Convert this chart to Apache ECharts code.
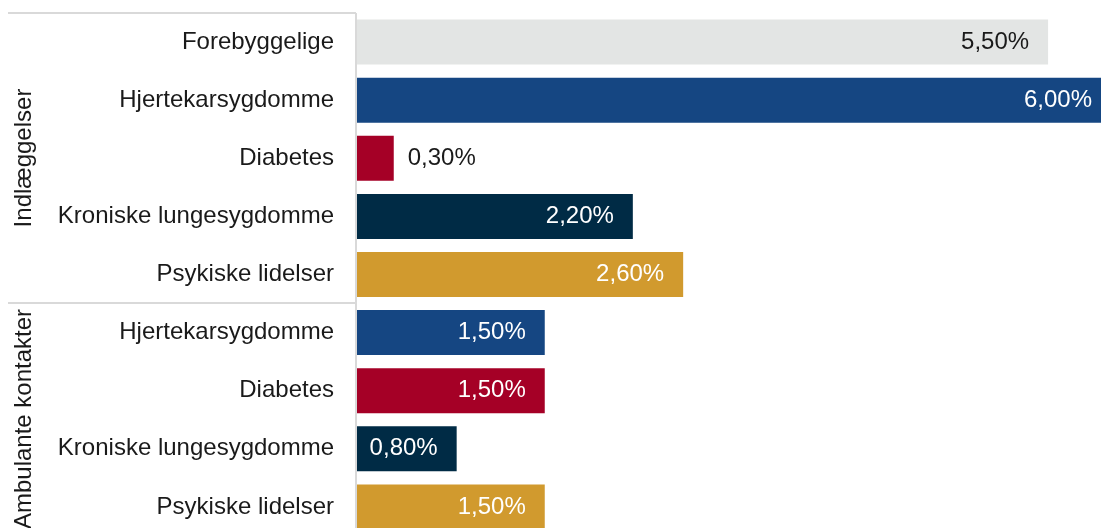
<!DOCTYPE html>
<html><head><meta charset="utf-8">
<script src="https://cdn.jsdelivr.net/npm/echarts@6/dist/echarts.min.js"></script>
<style>html,body{margin:0;padding:0;background:#fff}#c{width:1101px;height:528px}</style>
</head><body><div id="c"></div>
<script>
const categories = ['Forebyggelige','Hjertekarsygdomme','Diabetes','Kroniske lungesygdomme','Psykiske lidelser','Hjertekarsygdomme','Diabetes','Kroniske lungesygdomme','Psykiske lidelser'];
const values = [5.5, 6.0, 0.3, 2.2, 2.6, 1.5, 1.5, 0.8, 1.5];
const barColors = ['#e3e5e4','#154682','#a50026','#002b45','#d19a2e','#154682','#a50026','#002b45','#d19a2e'];
const groups = ['Indlæggelser','Ambulante kontakter'];

const FONT = 'Liberation Sans, Arial, sans-serif';
const fmt = v => v.toFixed(2).replace('.', ',') + '%';
const data = values.map((v, i) => {
  const outside = v < 0.5;
  const light = barColors[i] === '#e3e5e4';
  return {
    value: v,
    itemStyle: { color: barColors[i] },
    label: {
      position: outside ? 'right' : 'insideRight',
      distance: outside ? 14 : 19,
      color: (outside || light) ? '#1a1a1a' : '#ffffff'
    }
  };
});

const chart = echarts.init(document.getElementById('c'));
const lineStyle = { stroke: '#d9d9d9', lineWidth: 2 };
chart.setOption({
  animation: false,
  textStyle: { fontFamily: FONT },
  grid: { left: 356, top: 13, width: 755, height: 523, containLabel: false, outerBoundsMode: 'none' },
  xAxis: { type: 'value', min: 0, max: 6, show: false },
  yAxis: {
    type: 'category', data: categories, inverse: true,
    axisLine: { show: false }, axisTick: { show: false },
    axisLabel: { fontSize: 24, color: '#1a1a1a', margin: 22, fontFamily: FONT }
  },
  series: [{
    type: 'bar', data: data, barWidth: 45,
    label: { show: true, fontSize: 24, formatter: p => fmt(p.value), fontFamily: FONT }
  }],
  graphic: [
    { type: 'line', shape: { x1: 8, y1: 13, x2: 356, y2: 13 }, style: lineStyle, silent: true, z: 10 },
    { type: 'line', shape: { x1: 356, y1: 13, x2: 356, y2: 528 }, style: lineStyle, silent: true, z: 10 },
    { type: 'line', shape: { x1: 8, y1: 303, x2: 356, y2: 303 }, style: lineStyle, silent: true, z: 10 },
    { type: 'text', x: 24, y: 158, rotation: Math.PI / 2,
      style: { text: groups[0], fontSize: 24, fill: '#1a1a1a', align: 'center', verticalAlign: 'middle', fontFamily: FONT } },
    { type: 'text', x: 24, y: 419, rotation: Math.PI / 2,
      style: { text: groups[1], fontSize: 24, fill: '#1a1a1a', align: 'center', verticalAlign: 'middle', fontFamily: FONT } }
  ]
});
</script>
</body></html>
